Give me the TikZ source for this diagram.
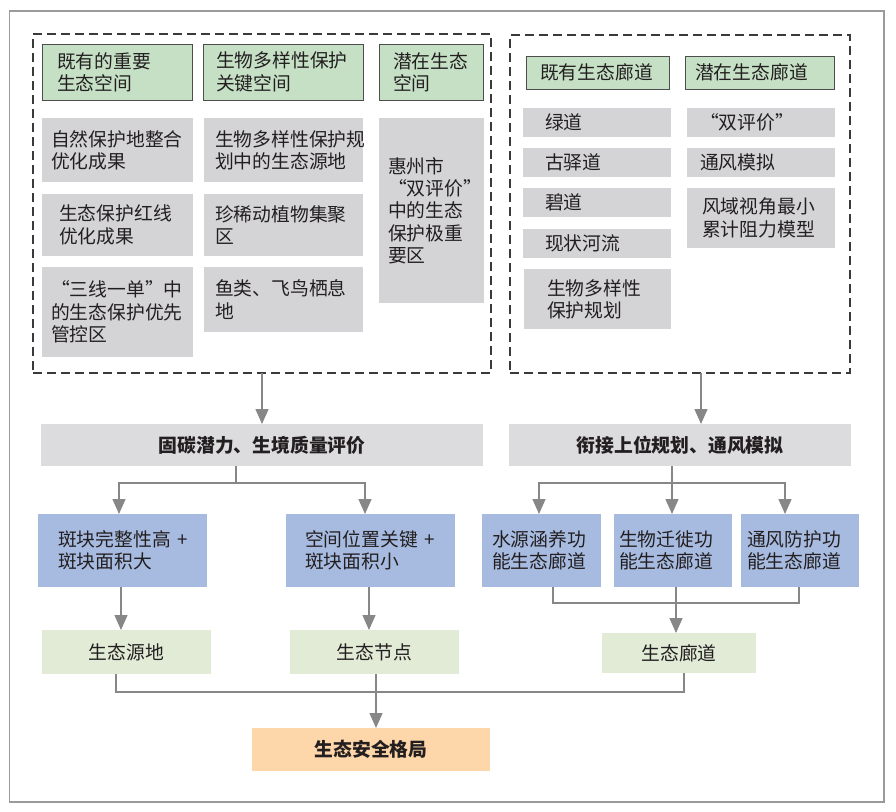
\documentclass[tikz,border=0pt]{standalone}
\usepackage{fontspec}
\setmainfont{Noto Sans CJK SC}
\usetikzlibrary{arrows.meta}
\definecolor{frc}{HTML}{9A9A9A}
\definecolor{dsc}{HTML}{3A3A3A}
\definecolor{hgr}{HTML}{C6E0C6}
\definecolor{hbd}{HTML}{4D4D4D}
\definecolor{gry}{HTML}{D4D4D6}
\definecolor{tgry}{HTML}{DCDCDE}
\definecolor{blu}{HTML}{A7BBE1}
\definecolor{lgr}{HTML}{E1EBD6}
\definecolor{org}{HTML}{FDD6A9}
\definecolor{arc}{HTML}{878787}
\definecolor{txc}{HTML}{231F20}
\newcommand\bx[9]{\node[#1,anchor=north west,minimum width=#5pt,minimum height=#6pt,inner xsep=#7pt,text width=#8pt] (#2) at (#3,#4) {#9};}
\newcommand\cb[7]{\node[#1,anchor=north west,minimum width=#5pt,minimum height=#6pt] (#2) at (#3,#4) {#7};}
\begin{document}
\begin{tikzpicture}[x=1pt,y=-1pt,
  base/.style={inner ysep=0pt,outer sep=0pt,text=txc,align=left,font=\fontsize{18.8pt}{22.3pt}\selectfont},
  hdr/.style={base,fill=hgr,draw=hbd,line width=1pt},
  gbox/.style={base,fill=gry},
  tbox/.style={base,fill=tgry,align=center,inner xsep=0pt,font=\fontsize{18.8pt}{22.3pt}\selectfont\bfseries},
  bbox/.style={base,fill=blu},
  lbox/.style={base,fill=lgr,align=center,inner xsep=0pt},
  obox/.style={base,fill=org,align=center,inner xsep=0pt,font=\fontsize{18.8pt}{22.3pt}\selectfont\bfseries},
  dbox/.style={draw=dsc,line width=1.2pt,dash pattern=on 9pt off 5pt,inner sep=0pt,outer sep=0pt},
  ln/.style={draw=arc,line width=1.4pt},
  arr/.style={draw=arc,line width=1.4pt,-{Triangle[width=13pt,length=15pt]}}]
\useasboundingbox (0,0) rectangle (896,811);
\node[draw=frc,line width=1.5pt,inner sep=0pt,outer sep=0pt,anchor=north west,minimum width=874.5pt,minimum height=791pt] (frame) at (9.5,11) {};
\node[dbox,anchor=north west,minimum width=458pt,minimum height=339pt] (ldash) at (33,34) {};
\node[dbox,anchor=north west,minimum width=340pt,minimum height=338pt] (rdash) at (510,35) {};
% left headers
\bx{hdr}{h1}{42}{44}{150}{56}{15}{120}{既有的重要\\生态空间}
\bx{hdr}{h2}{203}{44}{160}{56}{13}{134}{生物多样性保护\\关键空间}
\bx{hdr}{h3}{379}{44}{104}{56}{14}{76}{潜在生态\\空间}
% left grays
\bx{gbox}{g1}{42}{118}{151}{64}{9}{133}{自然保护地整合\\优化成果}
\bx{gbox}{g2}{42}{194}{151}{62}{17}{117}{生态保护红线\\优化成果}
\bx{gbox}{g3}{42}{267}{151}{90}{9}{133}{“三线一单”中\\的生态保护优先\\管控区}
\bx{gbox}{m1}{204}{118}{159}{64}{11}{137}{生物多样性保护规\\划中的生态源地}
\bx{gbox}{m2}{204}{194}{159}{62}{11}{137}{珍稀动植物集聚\\区}
\bx{gbox}{m3}{204}{267}{159}{65}{11}{137}{鱼类、飞鸟栖息\\地}
\bx{gbox}{r1}{379}{118}{105}{185}{9}{87}{惠州市\\“双评价”\\中的生态\\保护极重\\要区}
% right headers
\bx{hdr}{rh1}{526}{56}{143}{33}{14}{115}{既有生态廊道}
\bx{hdr}{rh2}{685}{56}{149}{33}{10}{129}{潜在生态廊道}
% right grays
\bx{gbox}{c1}{523}{108}{148}{29}{22}{104}{绿道}
\bx{gbox}{c2}{523}{148}{148}{29}{22}{104}{古驿道}
\bx{gbox}{c3}{523}{188}{148}{29}{22}{104}{碧道}
\bx{gbox}{c4}{523}{229}{148}{29}{22}{104}{现状河流}
\bx{gbox}{c5}{524}{269}{147}{60}{23}{101}{生物多样性\\保护规划}
\bx{gbox}{d1}{687}{108}{148}{29}{13}{122}{“双评价”}
\bx{gbox}{d2}{687}{148}{148}{29}{13}{122}{通风模拟}
\bx{gbox}{d3}{687}{188}{148}{60}{15}{118}{风域视角最小\\累计阻力模型}
% middle
\cb{tbox}{gutan}{41}{424}{442}{42}{固碳潜力、生境质量评价}
\cb{tbox}{xianjie}{509}{424}{342}{42}{衔接上位规划、通风模拟}
\bx{bbox}{bA}{38}{514}{169}{73}{20}{129}{斑块完整性高~+\\斑块面积大}
\bx{bbox}{bB}{286}{514}{169}{73}{19}{131}{空间位置关键~+\\斑块面积小}
\bx{bbox}{rb1}{482}{514}{119}{73}{10}{99}{水源涵养功\\能生态廊道}
\bx{bbox}{rb2}{614}{514}{118}{73}{5}{108}{生物迁徙功\\能生态廊道}
\bx{bbox}{rb3}{741}{514}{118}{73}{6}{106}{通风防护功\\能生态廊道}
\cb{lbox}{lA}{42}{630}{169}{44}{生态源地}
\cb{lbox}{lB}{290}{630}{169}{44}{生态节点}
\cb{lbox}{lC}{602}{633}{154}{40}{生态廊道}
\cb{obox}{final}{252}{728}{238}{43}{生态安全格局}
% connectors
\draw[arr] (ldash.south) -- (gutan.north);
\draw[arr] ([xshift=21pt]rdash.south) -- ([xshift=21pt]xianjie.north);
\draw[ln] ([xshift=-26pt]gutan.south) -- ++(0,17) coordinate (jA);
\draw[arr] (jA) -| ([xshift=-3.5pt]bA.north);
\draw[arr] (jA) -| ([xshift=-5.5pt]bB.north);
\draw[ln] ([xshift=-8pt]xianjie.south) -- ++(0,17) coordinate (jB);
\draw[arr] (jB) -| ([xshift=-2.5pt]rb1.north);
\draw[arr] (jB) -- ([xshift=-1pt]rb2.north);
\draw[arr] (jB) -| ([xshift=-15pt]rb3.north);
\draw[arr] ([xshift=-1.5pt]bA.south) -- ([xshift=-1.5pt]bA.south |- lA.north);
\draw[arr] ([xshift=-1.5pt]bB.south) -- ([xshift=-1.5pt]bB.south |- lB.north);
\coordinate (jC) at (676,603);
\draw[ln] ([xshift=11.5pt]rb1.south) |- (jC);
\draw[ln] ([xshift=-1pt]rb3.south) |- (jC);
\draw[arr] ([xshift=3pt]rb2.south) -- ([xshift=3pt]rb2.south |- lC.north);
\coordinate (jD) at (376,692);
\draw[ln] ([xshift=-10.5pt]lA.south) |- (jD);
\draw[ln] ([xshift=5pt]lC.south) |- (jD);
\draw[arr] ([xshift=1.5pt]lB.south) -- ([xshift=1.5pt]lB.south |- final.north);
\end{tikzpicture}
\end{document}
